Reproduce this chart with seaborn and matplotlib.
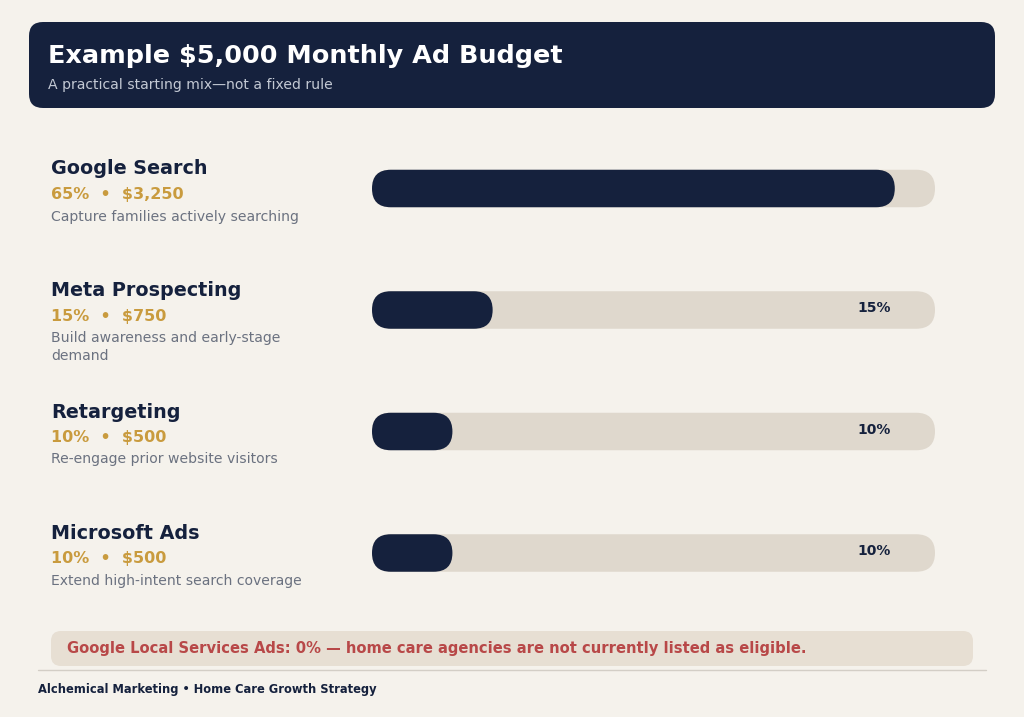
import textwrap
import matplotlib
matplotlib.use("Agg")
import matplotlib.pyplot as plt
from matplotlib.patches import FancyBboxPatch
import seaborn as sns
import pandas as pd

# ---- data ----
title = "Example $5,000 Monthly Ad Budget"
subtitle = "A practical starting mix\u2014not a fixed rule"
channels = ["Google Search", "Meta Prospecting", "Retargeting", "Microsoft Ads"]
percents = [65, 15, 10, 10]
amounts = ["$3,250", "$750", "$500", "$500"]
descriptions = [
    "Capture families actively searching",
    "Build awareness and early-stage demand",
    "Re-engage prior website visitors",
    "Extend high-intent search coverage",
]
scale_max = 70
note = "Google Local Services Ads: 0% \u2014 home care agencies are not currently listed as eligible."
footer = "Alchemical Marketing \u2022 Home Care Growth Strategy"

# ---- colors ----
BG = "#F5F2EC"
NAVY = "#15213D"
TRACK = "#DFD8CD"
GOLD = "#C99B3E"
GRAY = "#6B7280"
SUB = "#C3C9D4"
RED = "#B84848"
NOTE_BG = "#E7DFD3"
RULE = "#D3CEC6"

sns.set_theme(style="white")
plt.rcParams["font.family"] = ["DejaVu Sans"]

W, H = 1024, 717
fig = plt.figure(figsize=(W / 100, H / 100), dpi=100, facecolor=BG)

# background / decoration axes in pixel coordinates
bg = fig.add_axes([0, 0, 1, 1], zorder=0)
bg.set_xlim(0, W)
bg.set_ylim(H, 0)
bg.axis("off")
bg.set_facecolor(BG)

bg.add_patch(FancyBboxPatch((29, 22), 966, 86, boxstyle="round,pad=0,rounding_size=14",
                            fc=NAVY, ec="none"))
bg.text(48, 63.5, title, color="white", fontsize=18.35, fontweight="bold", va="baseline")
bg.text(48, 89, subtitle, color=SUB, fontsize=10.1, va="baseline")

# ---- bar axes ----
row0, spacing = 188.5, 121.5
top_px = row0 - spacing / 2
bot_px = top_px + spacing * len(channels)
left_px, right_px = 372, 935
ax = fig.add_axes([left_px / W, 1 - bot_px / H, (right_px - left_px) / W, (bot_px - top_px) / H],
                  zorder=1)
ax.patch.set_alpha(0)

df = pd.DataFrame({"channel": channels, "pct": percents, "track": [scale_max] * len(channels)})
bar_w = 37.5 / spacing
sns.barplot(data=df, x="track", y="channel", orient="h", color=TRACK, saturation=1,
            width=bar_w, ax=ax)
n_track = len(ax.patches)
sns.barplot(data=df, x="pct", y="channel", orient="h", color=NAVY, saturation=1,
            width=bar_w, ax=ax)
ax.set_xlim(0, scale_max)
ax.set_ylim(len(channels) - 0.5, -0.5)
ax.axis("off")

px_per_x = (right_px - left_px) / scale_max
px_per_y = spacing
aspect = px_per_x / px_per_y
radius = (37.5 / 2) / px_per_x

for k, p in enumerate(list(ax.patches)):
    x0, y0, w, h = p.get_x(), p.get_y(), p.get_width(), p.get_height()
    fc = p.get_facecolor()
    p.remove()
    ax.add_patch(FancyBboxPatch((x0, y0), w, h,
                                boxstyle=f"round,pad=0,rounding_size={radius}",
                                mutation_aspect=aspect, fc=fc, ec="none",
                                zorder=1 if k < n_track else 3))

label_x = (891 - left_px) / px_per_x
label_dy = -2 / spacing
for i, pct in enumerate(percents):
    ax.text(label_x, i + label_dy, f"{pct}%", ha="right", va="center", fontsize=10,
            fontweight="bold", color=NAVY, zorder=2)

# ---- left labels ----
for i, (name, pct, amt, desc) in enumerate(zip(channels, percents, amounts, descriptions)):
    cy = row0 + i * spacing
    bg.text(51, cy - 14, name, color=NAVY, fontsize=13.75, fontweight="bold", va="baseline")
    bg.text(51, cy + 10.5, f"{pct}%  \u2022  {amt}", color=GOLD, fontsize=11.5,
            fontweight="bold", va="baseline")
    for j, line in enumerate(textwrap.wrap(desc, 35)):
        bg.text(51, cy + 32 + j * 18, line, color=GRAY, fontsize=10.1, va="baseline")

# ---- note + footer ----
bg.add_patch(FancyBboxPatch((51, 631), 922, 35, boxstyle="round,pad=0,rounding_size=10",
                            fc=NOTE_BG, ec="none"))
bg.text(67, 648.5, note, color=RED, fontsize=10.65, fontweight="bold", va="center")
bg.plot([38, 986], [669.5, 669.5], color=RULE, lw=1)
bg.text(38, 692.5, footer, color=NAVY, fontsize=8.3, fontweight="bold", va="baseline")

fig.savefig("out.png", dpi=100, facecolor=BG)
